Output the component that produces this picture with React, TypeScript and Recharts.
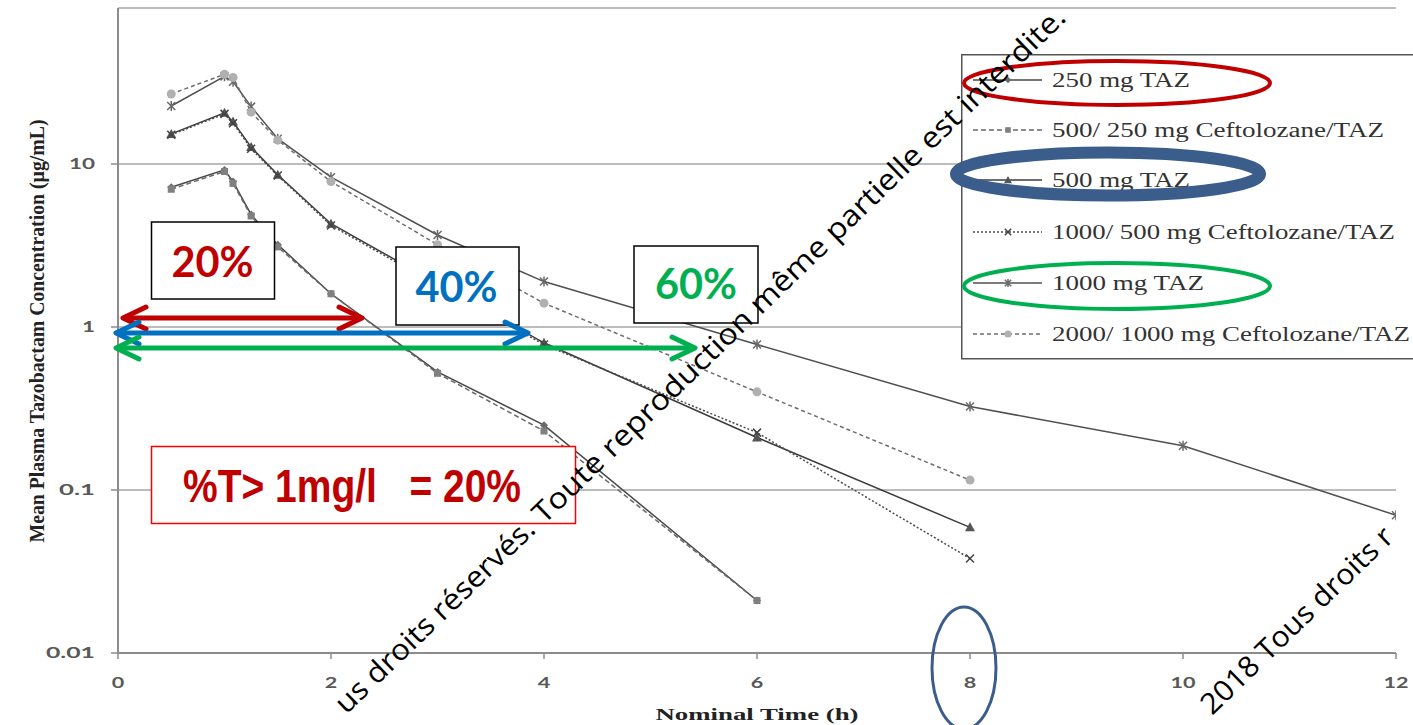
import { LineChart, Line, XAxis, YAxis, CartesianGrid, Legend, Label } from 'recharts'

// sampling times (h) and mean plasma tazobactam concentrations (µg/mL)
const times = [0.5, 1, 1.08, 1.25, 1.5, 2, 3, 4, 6, 8, 10, 12]
const taz250 = [7.2, 9.2, 7.8, 4.9, 3.2, 1.6, 0.53, 0.25, 0.021, null, null, null]
const cefTaz500_250 = [7.0, 9.0, 7.6, 4.8, 3.1, 1.6, 0.52, 0.23, 0.021, null, null, null]
const taz500 = [15.3, 20.6, 18.2, 12.7, 8.6, 4.3, 1.85, 0.8, 0.21, 0.059, null, null]
const cefTaz1000_500 = [15.1, 20.3, 17.8, 12.4, 8.5, 4.2, 1.8, 0.78, 0.225, 0.038, null, null]
const taz1000 = [22.7, 34.5, 32, 22.5, 14.3, 8.3, 3.67, 1.9, 0.78, 0.325, 0.187, 0.07]
const cefTaz2000_1000 = [26.9, 35.5, 34, 20.8, 14.0, 7.8, 3.2, 1.4, 0.4, 0.115, null, null]

const seriesNames = [
  '250 mg TAZ',
  '500/ 250 mg Ceftolozane/TAZ',
  '500 mg TAZ',
  '1000/ 500 mg Ceftolozane/TAZ',
  '1000 mg TAZ',
  '2000/ 1000 mg Ceftolozane/TAZ',
]
const seriesKeys = ['taz250', 'cefTaz500_250', 'taz500', 'cefTaz1000_500', 'taz1000', 'cefTaz2000_1000']
const seriesValues = [taz250, cefTaz500_250, taz500, cefTaz1000_500, taz1000, cefTaz2000_1000]

const xTicks = [0, 2, 4, 6, 8, 10, 12]
const yTicks = [0.01, 0.1, 1, 10]

// line look for each series
const seriesStyles = [
  { stroke: '#484848', dash: undefined, marker: 'diamond', markerColor: '#6a6a6a' },
  { stroke: '#6a6a6a', dash: '5 3', marker: 'square', markerColor: '#808080' },
  { stroke: '#3c3c3c', dash: undefined, marker: 'triangle', markerColor: '#555' },
  { stroke: '#4a4a4a', dash: '2 2', marker: 'cross', markerColor: '#444' },
  { stroke: '#505050', dash: undefined, marker: 'star', markerColor: '#6a6a6a' },
  { stroke: '#6e6e6e', dash: '4 3', marker: 'circle', markerColor: '#b0b0b0' },
]
const legendTextWidths = [138, 332, 138, 343, 152, 358]

const chartData = times.map((t, i) => {
  const row: Record<string, number | null> = { t }
  seriesKeys.forEach((k, j) => {
    row[k] = seriesValues[j][i]
  })
  return row
})

function Marker({ shape, x, y, color, s = 1 }: any) {
  switch (shape) {
    case 'diamond':
      return <polygon points={`${x},${y - 4 * s} ${x + 4 * s},${y} ${x},${y + 4 * s} ${x - 4 * s},${y}`} fill={color} />
    case 'square':
      return <rect x={x - 3.5 * s} y={y - 3.5 * s} width={7 * s} height={7 * s} fill={color} />
    case 'triangle':
      return <polygon points={`${x},${y - 5 * s} ${x + 5 * s},${y + 4 * s} ${x - 5 * s},${y + 4 * s}`} fill={color} />
    case 'cross':
      return (
        <path
          d={`M${x - 4 * s},${y - 4 * s}L${x + 4 * s},${y + 4 * s}M${x - 4 * s},${y + 4 * s}L${x + 4 * s},${y - 4 * s}`}
          stroke={color}
          strokeWidth={1.5}
        />
      )
    case 'star':
      return (
        <path
          d={`M${x - 4 * s},${y - 4 * s}L${x + 4 * s},${y + 4 * s}M${x - 4 * s},${y + 4 * s}L${x + 4 * s},${y - 4 * s}M${x},${y - 5 * s}L${x},${y + 5 * s}`}
          stroke={color}
          strokeWidth={1.5}
        />
      )
    default:
      return <circle cx={x} cy={y} r={4.5 * s} fill={color} />
  }
}

const makeDot = (i: number) => (props: any) => {
  const { cx, cy, value, index } = props
  if (value == null || cy == null || isNaN(cy)) return <g key={`d-${i}-${index}`} />
  const st = seriesStyles[i]
  return (
    <g key={`d-${i}-${index}`}>
      <Marker shape={st.marker} x={cx} y={cy} color={st.markerColor} />
    </g>
  )
}

const tickFont = { fontFamily: 'Lato, "Open Sans", sans-serif', fontWeight: 700, fontSize: 15, fill: '#595959' }

const labelWidth = (s: string) => s.replace(/\./g, '').length * 13 + (s.split('.').length - 1) * 10

const renderYTick = (props: any) => {
  const { x, y, payload } = props
  const s = String(payload.value)
  return (
    <text x={x} y={y} dy="0.36em" textAnchor="end" {...tickFont} textLength={labelWidth(s)} lengthAdjust="spacingAndGlyphs">
      {s}
    </text>
  )
}

const renderXTick = (props: any) => {
  const { x, y, payload } = props
  const s = String(payload.value)
  return (
    <text x={x} y={y + 29} textAnchor="middle" {...tickFont} fontSize={16} textLength={s.length * 12.5} lengthAdjust="spacingAndGlyphs">
      {s}
    </text>
  )
}

const renderYTitle = () => (
  <text
    transform="translate(44,331) scale(1.35,1) rotate(-90)"
    textAnchor="middle"
    fontFamily='"Liberation Serif", "Times New Roman", serif'
    fontWeight="bold"
    fontSize={16}
    fill="#222"
    textLength={423}
    lengthAdjust="spacingAndGlyphs"
  >
    Mean Plasma Tazobactam Concentration (µg/mL)
  </text>
)

const renderXTitle = () => (
  <text
    x={757}
    y={720}
    textAnchor="middle"
    fontFamily='"Liberation Serif", "Times New Roman", serif'
    fontWeight="bold"
    fontSize={17}
    fill="#222"
    textLength={203}
    lengthAdjust="spacingAndGlyphs"
  >
    Nominal Time (h)
  </text>
)

const rowY = [26, 76, 126, 178, 229, 280]

const renderLegend = () => (
  <svg width={460} height={306} style={{ display: 'block' }}>
    <rect x={0.75} y={0.75} width={470} height={304} fill="#fff" stroke="#555" strokeWidth={1.5} />
    {seriesNames.map((name, i) => {
      const st = seriesStyles[i]
      const y = rowY[i]
      return (
        <g key={name}>
          <line x1={12} x2={81} y1={y} y2={y} stroke={st.stroke} strokeWidth={1.3} strokeDasharray={st.dash} />
          <Marker shape={st.marker} x={47} y={y} color={st.markerColor} s={0.8} />
          <text
            x={91}
            y={y + 7}
            fontFamily='"Liberation Serif", "Times New Roman", serif'
            fontSize={20}
            fill="#333"
            textLength={legendTextWidths[i]}
            lengthAdjust="spacingAndGlyphs"
          >
            {name}
          </text>
        </g>
      )
    })}
  </svg>
)

const RED = '#c00000'
const BLUE = '#0070c0'
const GREEN = '#00b050'
const pctFont = { fontFamily: 'Lato, "Open Sans", sans-serif', fontWeight: 700, fontSize: 42 }

function Arrow({ x1, x2, y, color }: any) {
  return (
    <g stroke={color} strokeWidth={5} fill="none" strokeLinecap="round" strokeLinejoin="round">
      <line x1={x1 + 2} x2={x2 - 2} y1={y} y2={y} />
      <polyline points={`${x1 + 23},${y - 11} ${x1},${y} ${x1 + 23},${y + 11}`} />
      <polyline points={`${x2 - 23},${y - 11} ${x2},${y} ${x2 - 23},${y + 11}`} />
    </g>
  )
}

const wmFont = { fontFamily: '"Open Sans", sans-serif', fontSize: 29, fill: '#000' }

function Overlay() {
  return (
    <svg width={1413} height={725} style={{ position: 'absolute', left: 0, top: 0, pointerEvents: 'none' }}>
      {/* %T boxes */}
      <rect x={151.5} y={222} width={123} height={77} fill="#fff" stroke="#000" strokeWidth={1.5} />
      <text x={212.5} y={277} textAnchor="middle" fill={RED} {...pctFont} textLength={82} lengthAdjust="spacingAndGlyphs">20%</text>
      <rect x={396} y={247} width={123} height={78} fill="#fff" stroke="#000" strokeWidth={1.5} />
      <text x={456.5} y={302} textAnchor="middle" fill={BLUE} {...pctFont} textLength={82} lengthAdjust="spacingAndGlyphs">40%</text>
      <rect x={634} y={246} width={124} height={77} fill="#fff" stroke="#000" strokeWidth={1.5} />
      <text x={696} y={299} textAnchor="middle" fill={GREEN} {...pctFont} textLength={82} lengthAdjust="spacingAndGlyphs">60%</text>

      <Arrow x1={123} x2={362} y={318} color={RED} />
      <Arrow x1={116} x2={528} y={333} color={BLUE} />
      <Arrow x1={116} x2={695} y={348} color={GREEN} />

      <rect x={151.5} y={446.5} width={424} height={77} fill="#fff" stroke="#ff0000" strokeWidth={1.5} />
      <text
        x={183}
        y={502}
        fill={RED}
        fontFamily='"Liberation Sans Narrow", "Liberation Sans", Arial, sans-serif'
        fontWeight={700}
        fontSize={46}
        textLength={338}
        lengthAdjust="spacingAndGlyphs"
        style={{ whiteSpace: 'pre' }}
      >
        {'%T> 1mg/l   = 20%'}
      </text>

      {/* highlights */}
      <ellipse cx={1117} cy={83} rx={153} ry={22} fill="none" stroke={RED} strokeWidth={4} />
      <ellipse cx={1108} cy={174} rx={152} ry={21.5} fill="none" stroke="#3a5d8c" strokeWidth={12} />
      <ellipse cx={1117} cy={286} rx={153} ry={23} fill="none" stroke={GREEN} strokeWidth={4} />
      <ellipse cx={964} cy={668} rx={32} ry={61} fill="none" stroke="#3a5d8c" strokeWidth={3} />

      {/* watermark */}
      <text transform="translate(544,525) rotate(-44)" {...wmFont} textLength={728} lengthAdjust="spacingAndGlyphs">
        Toute reproduction même partielle est interdite.
      </text>
      <text transform="translate(537,531) rotate(-44)" textAnchor="end" {...wmFont} textLength={265} lengthAdjust="spacingAndGlyphs">
        us droits réservés.
      </text>
      <text transform="translate(1212,716) rotate(-44)" {...wmFont} textLength={255} lengthAdjust="spacingAndGlyphs">
        2018 Tous droits r
      </text>
    </svg>
  )
}

export default function App() {
  return (
    <div style={{ position: 'absolute', left: 0, top: 0, width: 1413, height: 725, overflow: 'hidden', background: '#fff' }}>
      <LineChart width={1413} height={725} data={chartData} margin={{ top: 8, right: 17, bottom: 0, left: 0 }}>
        <CartesianGrid vertical={false} stroke="#a6a6a6" strokeWidth={1.5} />
        <XAxis
          type="number"
          dataKey="t"
          domain={[0, 12]}
          ticks={xTicks}
          interval={0}
          height={72}
          tickSize={6}
          tickMargin={0}
          allowDataOverflow
          axisLine={{ stroke: '#8c8c8c', strokeWidth: 2 }}
          tickLine={{ stroke: '#8c8c8c', strokeWidth: 1.5 }}
          tick={renderXTick}
        >
          <Label content={renderXTitle} />
        </XAxis>
        <YAxis
          type="number"
          scale="log"
          domain={[0.01, 90.6]}
          ticks={yTicks}
          interval={0}
          width={118}
          tickSize={7}
          tickMargin={16}
          allowDataOverflow
          axisLine={{ stroke: '#8c8c8c', strokeWidth: 2 }}
          tickLine={{ stroke: '#8c8c8c', strokeWidth: 1.5 }}
          tick={renderYTick}
        >
          <Label content={renderYTitle} />
        </YAxis>
        {seriesKeys.map((k, i) => (
          <Line
            key={k}
            type="linear"
            dataKey={k}
            name={seriesNames[i]}
            stroke={seriesStyles[i].stroke}
            strokeWidth={1.5}
            strokeDasharray={seriesStyles[i].dash}
            dot={makeDot(i)}
            activeDot={false}
            connectNulls={false}
            isAnimationActive={false}
          />
        ))}
        <Legend
          layout="vertical"
          align="center"
          verticalAlign="middle"
          wrapperStyle={{ left: 961, top: 54, width: 460, height: 306 }}
          content={renderLegend}
        />
      </LineChart>
      <Overlay />
    </div>
  )
}
